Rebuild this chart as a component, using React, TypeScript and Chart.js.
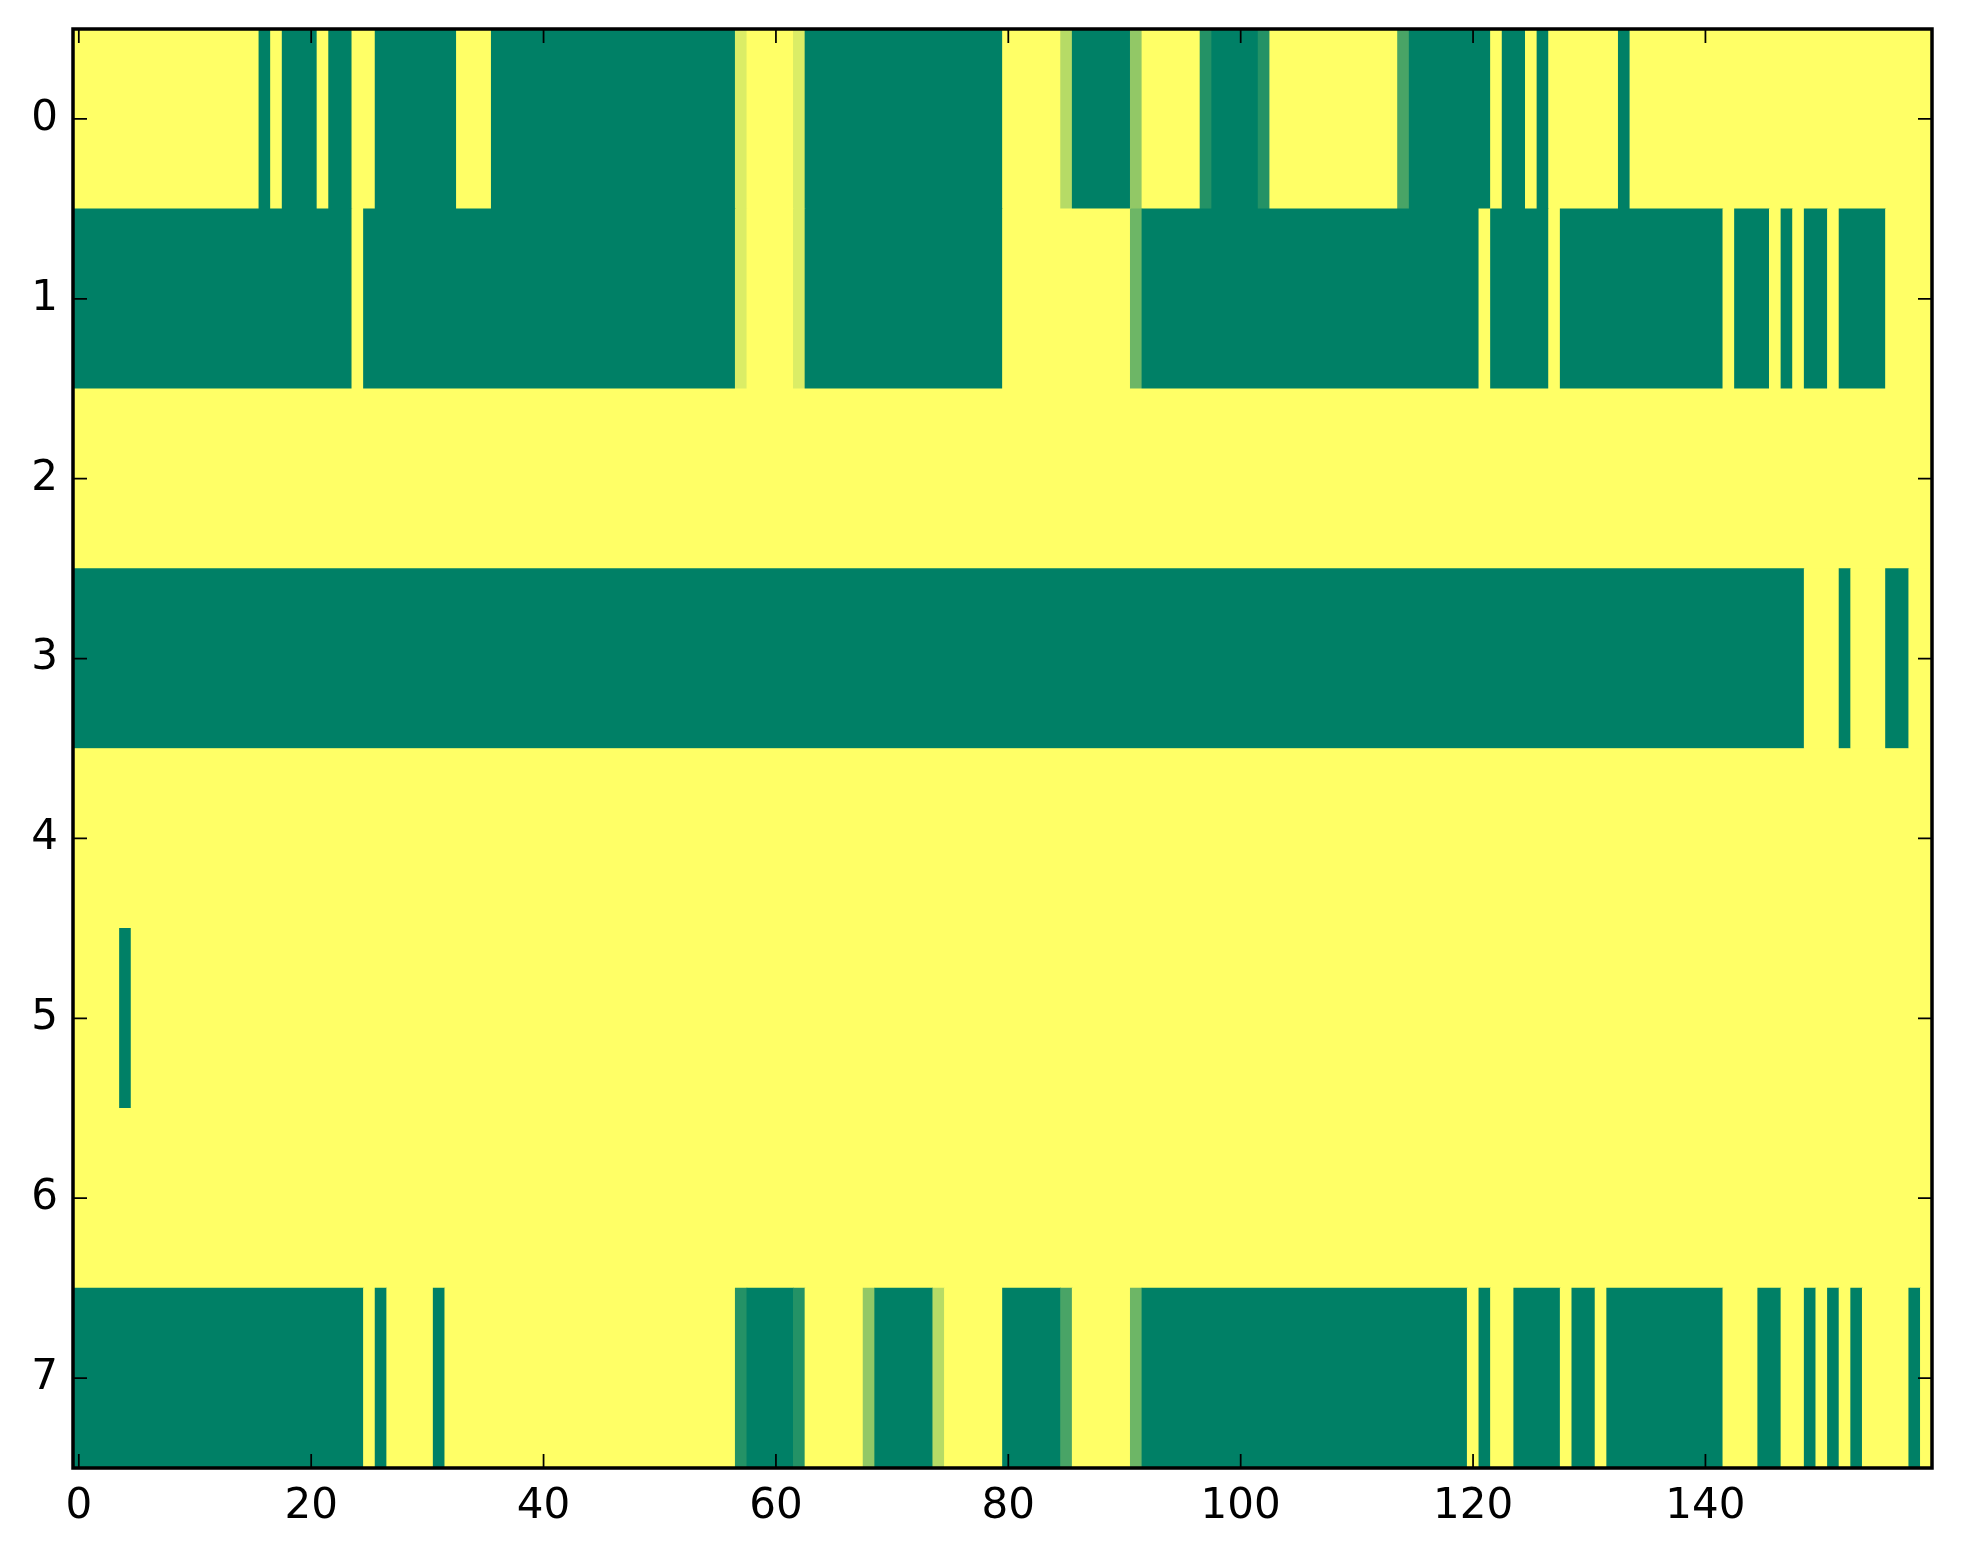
import { useEffect, useRef } from 'react';
import { Chart, registerables } from 'chart.js';

Chart.register(...registerables);

// Grid rows, top to bottom. Each digit is one cell, value in sevenths
// (0 = yellow, 7 = full green). Written in chunks of 10 columns.
const ROW_0 = [
  '0000000000', '0000007077', '7077007777', '7770007777', '7777777777', '7777777100',
  '0017777777', '7777777777', '0000027777', '7300000677', '7760000000', '0000577777',
  '7707707000', '0007000000', '0000000000', '0000000000',
].join('');
const ROW_1 = [
  '7777777777', '7777777777', '7777077777', '7777777777', '7777777777', '7777777100',
  '0017777777', '7777777777', '0000000000', '0477777777', '7777777777', '7777777777',
  '7077777077', '7777777777', '7707770707', '7077770000',
].join('');
const ROW_2 = [
  '0000000000', '0000000000', '0000000000', '0000000000', '0000000000', '0000000000',
  '0000000000', '0000000000', '0000000000', '0000000000', '0000000000', '0000000000',
  '0000000000', '0000000000', '0000000000', '0000000000',
].join('');
const ROW_3 = [
  '7777777777', '7777777777', '7777777777', '7777777777', '7777777777', '7777777777',
  '7777777777', '7777777777', '7777777777', '7777777777', '7777777777', '7777777777',
  '7777777777', '7777777777', '7777777770', '0070007700',
].join('');
const ROW_4 = [
  '0000000000', '0000000000', '0000000000', '0000000000', '0000000000', '0000000000',
  '0000000000', '0000000000', '0000000000', '0000000000', '0000000000', '0000000000',
  '0000000000', '0000000000', '0000000000', '0000000000',
].join('');
const ROW_5 = [
  '0000700000', '0000000000', '0000000000', '0000000000', '0000000000', '0000000000',
  '0000000000', '0000000000', '0000000000', '0000000000', '0000000000', '0000000000',
  '0000000000', '0000000000', '0000000000', '0000000000',
].join('');
const ROW_6 = [
  '0000000000', '0000000000', '0000000000', '0000000000', '0000000000', '0000000000',
  '0000000000', '0000000000', '0000000000', '0000000000', '0000000000', '0000000000',
  '0000000000', '0000000000', '0000000000', '0000000000',
].join('');
const ROW_7 = [
  '7777777777', '7777777777', '7777707000', '0700000000', '0000000000', '0000000677',
  '7760000037', '7777200000', '7777750000', '0477777777', '7777777777', '7777777777',
  '0700777707', '7077777777', '7700077007', '0707000070',
].join('');

const ROWS = [ROW_0, ROW_1, ROW_2, ROW_3, ROW_4, ROW_5, ROW_6, ROW_7];
const ROW_LABELS = ['0', '1', '2', '3', '4', '5', '6', '7'];
const X_TICKS = [0, 20, 40, 60, 80, 100, 120, 140];
const LEVELS = 7;
const N_COLS = 160;

const FONT = { family: "'DejaVu Sans', sans-serif", size: 42 };

// matplotlib "summer_r": 0 -> yellow, 1 -> green
function summerR(v: number) {
  const r = Math.round(255 * (1 - v));
  const g = Math.round(255 * (1 - v / 2));
  return `rgb(${r}, ${g}, 102)`;
}

type Run = { row: string; start: number; end: number; value: number };

// merge neighbouring equal cells so one bar covers each run
function buildRuns(): Run[] {
  const runs: Run[] = [];
  ROWS.forEach((cells, r) => {
    let start = 0;
    for (let c = 1; c <= cells.length; c++) {
      if (c === cells.length || cells[c] !== cells[start]) {
        runs.push({ row: ROW_LABELS[r], start, end: c - 1, value: Number(cells[start]) / LEVELS });
        start = c;
      }
    }
  });
  return runs;
}

const framePlugin = {
  id: 'frame',
  beforeDatasetsDraw(chart: any) {
    const { ctx, chartArea: a } = chart;
    ctx.save();
    ctx.fillStyle = summerR(0);
    ctx.fillRect(a.left, a.top, a.right - a.left, a.bottom - a.top);
    ctx.restore();
  },
  afterDraw(chart: any) {
    const { ctx, chartArea: a, scales } = chart;
    const len = 14;
    ctx.save();
    ctx.strokeStyle = '#000';
    ctx.lineWidth = 1.75;
    ctx.beginPath();
    X_TICKS.forEach(v => {
      const x = scales.x.getPixelForValue(v);
      ctx.moveTo(x, a.bottom);
      ctx.lineTo(x, a.bottom - len);
      ctx.moveTo(x, a.top);
      ctx.lineTo(x, a.top + len);
    });
    ROW_LABELS.forEach((_, i) => {
      const y = scales.y.getPixelForTick(i);
      ctx.moveTo(a.left, y);
      ctx.lineTo(a.left + len, y);
      ctx.moveTo(a.right, y);
      ctx.lineTo(a.right - len, y);
    });
    ctx.stroke();
    ctx.lineWidth = 3.5;
    ctx.strokeRect(a.left, a.top, a.right - a.left, a.bottom - a.top);
    ctx.restore();
  },
};

export default function App() {
  const canvasRef = useRef<HTMLCanvasElement>(null);
  const chartRef = useRef<Chart | null>(null);

  useEffect(() => {
    if (!canvasRef.current) return;
    if (chartRef.current) chartRef.current.destroy();

    const runs = buildRuns();

    chartRef.current = new Chart(canvasRef.current, {
      type: 'bar',
      data: {
        labels: ROW_LABELS,
        datasets: [{
          data: runs.map(r => ({ y: r.row, x: [r.start - 0.5, r.end + 0.5] })) as any,
          backgroundColor: runs.map(r => summerR(r.value)),
          borderWidth: 0,
          barPercentage: 1,
          categoryPercentage: 1,
        }],
      },
      options: {
        indexAxis: 'y',
        responsive: false,
        animation: false,
        devicePixelRatio: 1,
        layout: { padding: { top: 29, right: 31, left: 0, bottom: 0 } },
        plugins: {
          legend: { display: false },
          tooltip: { enabled: false },
        },
        scales: {
          x: {
            type: 'linear',
            min: -0.5,
            max: N_COLS - 0.5,
            afterBuildTicks: (s: any) => { s.ticks = X_TICKS.map(v => ({ value: v })); },
            afterFit: (s: any) => {
              s.height = 96;
              s.paddingLeft = 0;
              s.paddingRight = 0;
            },
            grid: { display: false, drawTicks: false },
            border: { display: false },
            ticks: { font: FONT, color: '#000', padding: 14, maxRotation: 0, autoSkip: false },
          },
          y: {
            type: 'category',
            offset: true,
            afterFit: (s: any) => {
              s.width = 73;
              s.paddingTop = 0;
              s.paddingBottom = 0;
            },
            grid: { display: false, drawTicks: false },
            border: { display: false },
            ticks: { font: FONT, color: '#000', padding: 15 },
          },
        },
      },
      plugins: [framePlugin],
    });

    return () => {
      if (chartRef.current) { chartRef.current.destroy(); chartRef.current = null; }
    };
  }, []);

  return (
    <div style={{ position: 'absolute', left: 0, top: 0, width: 1963, height: 1564, background: '#fff' }}>
      <canvas ref={canvasRef} width={1963} height={1564} style={{ display: 'block' }} />
    </div>
  );
}
